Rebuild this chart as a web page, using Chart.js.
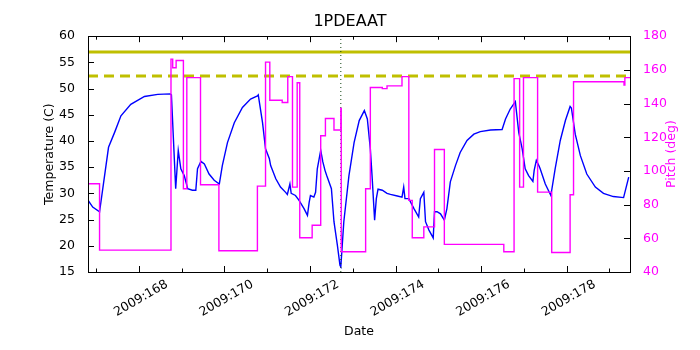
<!DOCTYPE html>
<html>
<head>
<meta charset="utf-8">
<script src="https://cdn.jsdelivr.net/npm/chart.js@4"></script>
<style>
  html, body { margin: 0; padding: 0; background: #fff; }
  #wrap { width: 700px; height: 350px; }
</style>
</head>
<body>
<div id="wrap"><canvas id="chart" width="700" height="350"></canvas></div>
<script>
// temperature (left axis), day of 2009
const tempDays = [166.81, 166.92, 167.08, 167.29, 167.43, 167.58, 167.81, 168.13, 168.44, 168.73,
  168.76, 168.86, 168.92, 168.98, 169.06, 169.14, 169.25, 169.33, 169.37, 169.45,
  169.53, 169.64, 169.76, 169.88, 169.95, 170.07, 170.23, 170.42, 170.61, 170.77,
  170.79, 170.89, 170.96, 171.05, 171.08, 171.20, 171.31, 171.43, 171.47, 171.53,
  171.56, 171.66, 171.74, 171.86, 171.94, 171.98, 172.01, 172.09, 172.13, 172.17,
  172.25, 172.30, 172.35, 172.39, 172.50, 172.56, 172.64, 172.70, 172.72, 172.79,
  172.91, 173.03, 173.15, 173.27, 173.34, 173.41, 173.45, 173.51, 173.55, 173.59,
  173.69, 173.80, 173.88, 174.04, 174.15, 174.19, 174.22, 174.31, 174.43, 174.54,
  174.58, 174.66, 174.70, 174.78, 174.88, 174.91, 174.97, 175.05, 175.14, 175.20,
  175.28, 175.40, 175.51, 175.67, 175.83, 175.98, 176.22, 176.49, 176.57, 176.68,
  176.80, 176.88, 176.96, 177.03, 177.11, 177.21, 177.24, 177.29, 177.35, 177.38,
  177.50, 177.63, 177.73, 177.85, 177.97, 178.08, 178.11, 178.20, 178.32, 178.47,
  178.67, 178.86, 179.09, 179.33, 179.45];
const tempVals = [28.7, 27.4, 26.5, 38.8, 41.6, 44.8, 47.0, 48.5, 48.9, 49.0,
  48.8, 30.9, 38.2, 34.7, 33.4, 30.9, 30.6, 30.6, 34.7, 36.1,
  35.6, 33.7, 32.5, 31.8, 35.3, 39.7, 43.5, 46.4, 48.0, 48.6,
  48.8, 43.5, 38.5, 36.6, 35.3, 32.8, 31.2, 30.2, 29.8, 31.8,
  30.0, 29.6, 28.7, 27.1, 25.8, 28.3, 29.6, 29.3, 30.2, 34.7,
  38.2, 36.0, 34.4, 33.4, 30.9, 24.6, 20.1, 16.3, 16.0, 24.6,
  33.4, 39.7, 43.9, 45.8, 44.2, 38.5, 33.4, 24.9, 29.0, 30.8,
  30.6, 30.0, 29.8, 29.5, 29.3, 31.2, 29.0, 29.0, 27.1, 25.5,
  29.0, 30.2, 24.6, 23.0, 21.5, 26.5, 26.5, 26.1, 24.9, 27.1,
  32.2, 35.3, 37.8, 40.1, 41.3, 41.8, 42.1, 42.2, 44.2, 46.1,
  47.5, 41.6, 38.5, 34.7, 33.4, 32.3, 34.4, 36.3, 35.3, 34.7,
  31.8, 29.6, 34.7, 40.1, 43.9, 46.6, 46.3, 41.3, 37.2, 33.7,
  31.2, 30.0, 29.4, 29.2, 33.1];

// pitch (right axis): day where the value changes, and the new value
const pitchDays = [166.81, 167.08, 168.75, 168.79, 168.87, 169.04, 169.12, 169.44, 169.87, 170.77,
  170.96, 171.06, 171.35, 171.48, 171.59, 171.70, 171.76, 172.05, 172.25, 172.36,
  172.56, 172.72, 172.73, 173.30, 173.41, 173.69, 173.80, 174.15, 174.31, 174.39,
  174.66, 174.91, 175.14, 176.53, 176.77, 176.90, 176.99, 177.32, 177.65, 178.08,
  178.16, 179.34, 179.36, 179.48];
const pitchVals = [92.4, 53.0, 166.4, 161.3, 165.6, 89.4, 155.4, 91.8, 52.6, 91.0,
  164.6, 142.0, 140.6, 156.0, 90.4, 152.4, 60.3, 67.8, 120.9, 131.1,
  124.3, 137.1, 52.0, 89.4, 149.5, 148.9, 150.5, 156.0, 82.5, 60.3,
  66.8, 112.7, 56.4, 52.0, 154.8, 90.4, 155.4, 87.4, 51.6, 85.9,
  153.0, 151.0, 155.4, 155.4];

// limit lines (temperature) and the marked time
const limitVals = [57.0, 52.4];
const markDay = 172.72;

const xMin = 166.81, xMax = 179.48;
const tempTicks = [15, 60, 5];
const pitchTicks = [40, 180, 20];

const FONT = 'DejaVu Sans';
const toXY = (xs, ys) => xs.map((x, i) => ({x: x, y: ys[i]}));

// matplotlib-like frame with inward ticks, plus the right axis title
const framePlugin = {
  id: 'frame',
  afterDatasetsDraw(chart) {
    const {ctx, chartArea: a, scales} = chart;
    ctx.save();
    ctx.strokeStyle = '#000';
    ctx.lineWidth = 1;
    ctx.beginPath();
    for (let d = 167; d <= 179; d++) {
      const px = Math.round(scales.x.getPixelForValue(d)) + 0.5;
      const len = d % 2 === 0 ? 6 : 3.5;
      ctx.moveTo(px, a.bottom); ctx.lineTo(px, a.bottom - len);
      ctx.moveTo(px, a.top); ctx.lineTo(px, a.top + len);
    }
    for (let v = tempTicks[0]; v <= tempTicks[1]; v += tempTicks[2]) {
      const py = Math.round(scales.y.getPixelForValue(v)) + 0.5;
      ctx.moveTo(a.left, py); ctx.lineTo(a.left + 6, py);
    }
    for (let v = pitchTicks[0]; v <= pitchTicks[1]; v += pitchTicks[2]) {
      const py = Math.round(scales.y2.getPixelForValue(v)) + 0.5;
      ctx.moveTo(a.right, py); ctx.lineTo(a.right - 6, py);
    }
    ctx.stroke();
    ctx.strokeRect(Math.round(a.left) + 0.5, Math.round(a.top) + 0.5,
      Math.round(a.right - a.left), Math.round(a.bottom - a.top));

    ctx.translate(a.right + 42, (a.top + a.bottom) / 2);
    ctx.rotate(-Math.PI / 2);
    ctx.fillStyle = '#ff00ff';
    ctx.font = '12.5px "' + FONT + '"';
    ctx.textAlign = 'center';
    ctx.textBaseline = 'middle';
    ctx.fillText('Pitch (deg)', 0, 0);
    ctx.restore();
  }
};

new Chart(document.getElementById('chart'), {
  type: 'line',
  data: {
    datasets: [
      {
        label: 'Pitch',
        data: toXY(pitchDays, pitchVals),
        yAxisID: 'y2',
        borderColor: '#ff00ff',
        borderWidth: 1.4,
        stepped: true,
        pointRadius: 0,
        order: 0
      },
      {
        label: 'mark',
        data: [{x: markDay, y: tempTicks[0]}, {x: markDay, y: tempTicks[1]}],
        yAxisID: 'y',
        borderColor: '#114411',
        borderWidth: 1,
        borderDash: [1, 3],
        pointRadius: 0,
        order: 1
      },
      {
        label: 'Temperature',
        data: toXY(tempDays, tempVals),
        yAxisID: 'y',
        borderColor: '#0000ff',
        borderWidth: 1.4,
        pointRadius: 0,
        tension: 0,
        order: 2
      },
      {
        label: 'limit',
        data: [{x: xMin, y: limitVals[0]}, {x: xMax, y: limitVals[0]}],
        yAxisID: 'y',
        borderColor: '#bfbf00',
        borderWidth: 3,
        pointRadius: 0,
        order: 3
      },
      {
        label: 'limit2',
        data: [{x: xMin, y: limitVals[1]}, {x: xMax, y: limitVals[1]}],
        yAxisID: 'y',
        borderColor: '#bfbf00',
        borderWidth: 3,
        borderDash: [10, 6],
        pointRadius: 0,
        order: 3
      }
    ]
  },
  options: {
    responsive: false,
    animation: false,
    layout: { padding: 0 },
    plugins: {
      legend: { display: false },
      tooltip: { enabled: false },
      title: {
        display: true,
        text: '1PDEAAT',
        color: '#000',
        font: { family: FONT, size: 16, weight: 'normal' },
        padding: { top: 12, bottom: 5 }
      }
    },
    scales: {
      x: {
        type: 'linear',
        min: xMin,
        max: xMax,
        afterFit: (s) => { s.height = 78; },
        grid: { display: false },
        border: { display: false },
        ticks: {
          stepSize: 1,
          autoSkip: false,
          includeBounds: false,
          minRotation: 30,
          maxRotation: 30,
          labelOffset: 28,
          padding: -3,
          color: '#000',
          font: { family: FONT, size: 12.5 },
          callback: (v) => (v % 2 === 0 ? '2009:' + v : '')
        },
        title: {
          display: true,
          text: 'Date',
          color: '#000',
          font: { family: FONT, size: 12.5 },
          padding: { top: 0, bottom: 11 }
        }
      },
      y: {
        position: 'left',
        min: tempTicks[0],
        max: tempTicks[1],
        afterFit: (s) => { s.width = 88; },
        grid: { display: false },
        border: { display: false },
        ticks: {
          stepSize: tempTicks[2],
          padding: 5,
          color: '#000',
          font: { family: FONT, size: 12.5 }
        },
        title: {
          display: true,
          text: 'Temperature (C)',
          color: '#000',
          font: { family: FONT, size: 12.5 },
          padding: { top: 42, bottom: 0 }
        }
      },
      y2: {
        position: 'right',
        min: pitchTicks[0],
        max: pitchTicks[1],
        afterFit: (s) => { s.width = 70; },
        grid: { display: false },
        border: { display: false },
        ticks: {
          stepSize: pitchTicks[2],
          padding: 5,
          color: '#ff00ff',
          font: { family: FONT, size: 12.5 }
        },
        title: { display: false }
      }
    }
  },
  plugins: [framePlugin]
});
</script>
</body>
</html>
